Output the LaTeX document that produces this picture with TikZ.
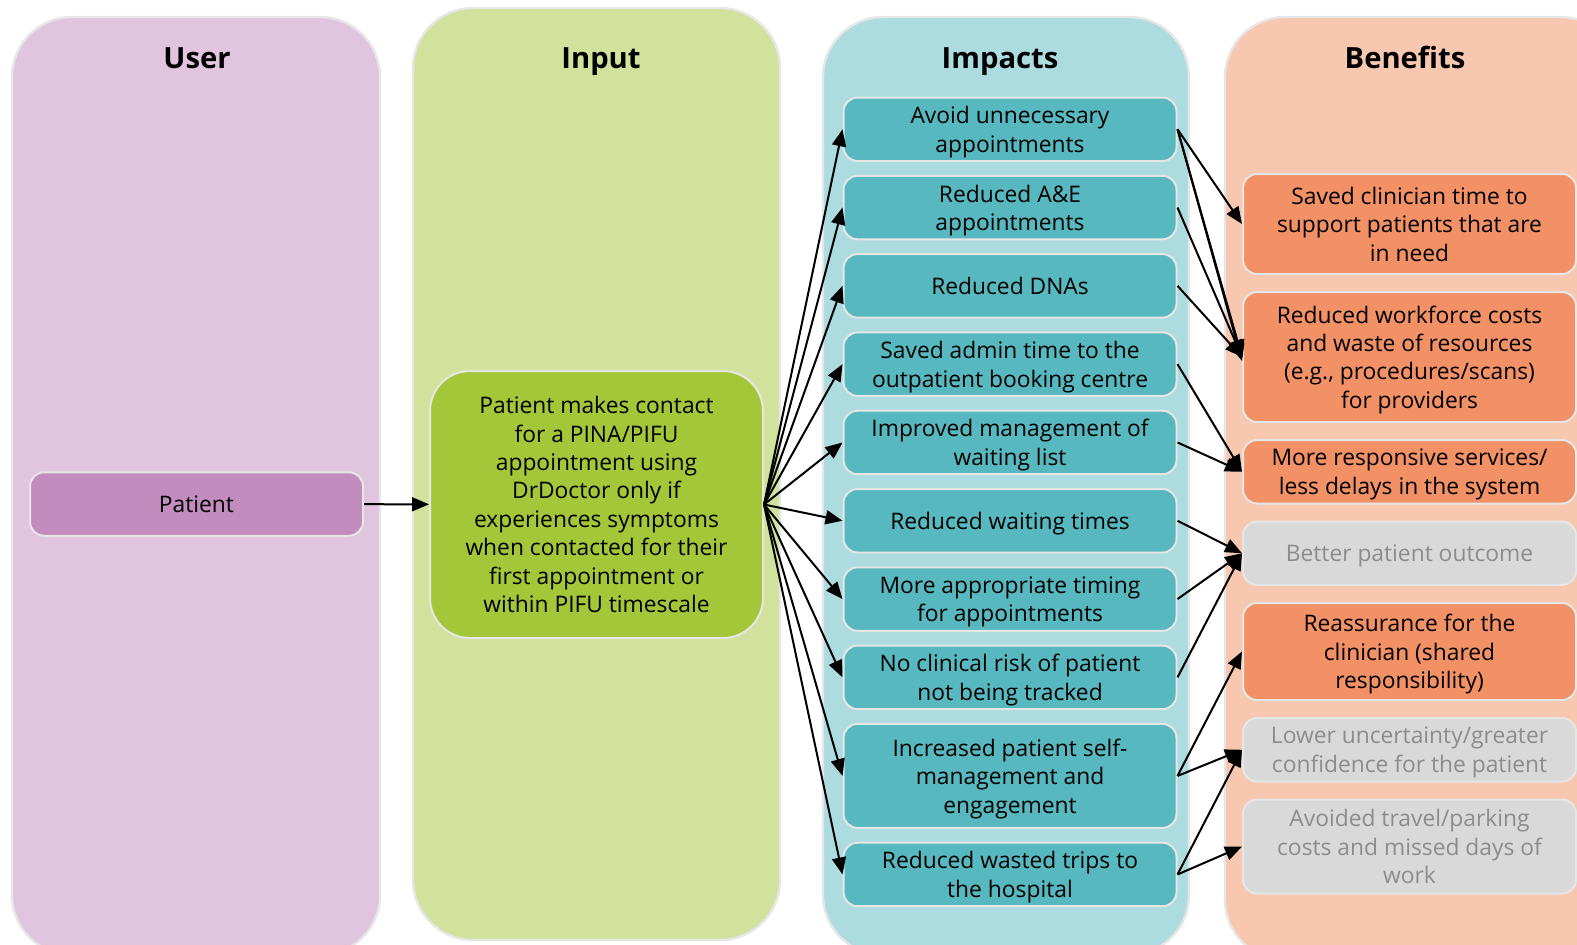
\documentclass[tikz,border=0pt]{standalone}
\usepackage{fontspec}
\setmainfont{Open Sans}
\usetikzlibrary{arrows.meta,positioning}
\definecolor{userlane}{HTML}{E1C5DF}
\definecolor{userbox}{HTML}{C28CBE}
\definecolor{inputlane}{HTML}{D2E29C}
\definecolor{inputbox}{HTML}{A4C639}
\definecolor{impactlane}{HTML}{ADDCE0}
\definecolor{impactbox}{HTML}{57B9BF}
\definecolor{benefitlane}{HTML}{F7C7B0}
\definecolor{benefitbox}{HTML}{F29066}
\definecolor{greybox}{HTML}{D9D9D9}
\definecolor{greytext}{HTML}{8C8C8C}
\definecolor{edgegrey}{HTML}{E6E6E6}

\begin{document}
\begin{tikzpicture}[x=0.5pt,y=-0.5pt,
node distance=6.4pt,
lane/.style={draw=edgegrey,line width=1.2pt,rounded corners=30pt},
head/.style={anchor=base,font=\fontsize{14.6}{16}\selectfont\bfseries},
box/.style={draw=edgegrey,line width=1pt,rounded corners=7pt,align=center,
font=\fontsize{11.4}{14.2}\selectfont,inner sep=2pt,text depth=0pt,
minimum width=166.5pt,minimum height=31.75pt},
user/.style={box,fill=userbox},
input/.style={box,fill=inputbox,rounded corners=20pt,minimum height=133.5pt},
impact/.style={box,fill=impactbox},
benefit/.style={box,fill=benefitbox},
faded/.style={box,fill=greybox,text=greytext},
dep/.style={-{Triangle[length=8.5pt,width=7pt]},line width=1pt}
]
\clip (0,0) rectangle (1577,944);
\path[lane,fill=userlane] (12,17) rectangle (380,955);
\path[lane,fill=inputlane] (413,8) rectangle (780,940);
\path[lane,fill=impactlane] (823,17) rectangle (1189,955);
\path[lane,fill=benefitlane] (1225,17) rectangle (1620,960);

\node[head] (userhd) at (197,68) {User};
\node[head] (inputhd) at (601,68) {Input};
\node[head] (impacthd) at (1000,68) {Impacts};
\node[head] (benefithd) at (1405,68) {Benefits};

\node[user] (patient) at (196.5,504) {Patient};
\node[input] (contact) at (596.5,504.5) {Patient makes contact\\for a PINA/PIFU\\appointment using\\DrDoctor only if\\experiences symptoms\\when contacted for their\\first appointment or\\within PIFU timescale};

\node[impact,anchor=north] (avoid) at (1010,96.5) {Avoid unnecessary\\appointments};
\node[impact,below=of avoid] (ane) {Reduced A\&E\\appointments};
\node[impact,below=of ane] (dna) {Reduced DNAs};
\node[impact,below=of dna] (admin) {Saved admin time to the\\outpatient booking centre};
\node[impact,below=of admin] (waitlist) {Improved management of\\waiting list};
\node[impact,below=of waitlist] (waittime) {Reduced waiting times};
\node[impact,below=of waittime] (timing) {More appropriate timing\\for appointments};
\node[impact,below=of timing] (risk) {No clinical risk of patient\\not being tracked};
\node[impact,below=of risk,minimum height=52pt] (selfman) {Increased patient self-\\management and\\engagement};
\node[impact,below=of selfman] (trips) {Reduced wasted trips to\\the hospital};

\node[benefit,anchor=north,minimum height=50pt] (clintime) at (1409.5,173) {Saved clinician time to\\support patients that are\\in need};
\node[benefit,below=8pt of clintime,minimum height=65pt] (costs) {Reduced workforce costs\\and waste of resources\\(e.g., procedures/scans)\\for providers};
\node[benefit,below=8pt of costs] (responsive) {More responsive services/\\less delays in the system};
\node[faded,below=8pt of responsive] (outcome) {Better patient outcome};
\node[benefit,below=8pt of outcome,minimum height=48.5pt] (reassure) {Reassurance for the\\clinician (shared\\responsibility)};
\node[faded,below=8pt of reassure] (certainty) {Lower uncertainty/greater\\confidence for the patient};
\node[faded,below=8pt of certainty,minimum height=47pt] (travel) {Avoided travel/parking\\costs and missed days of\\work};

\draw[dep] (patient) -- (contact);

\draw[dep] (contact.east) -- (avoid.west);
\draw[dep] (contact.east) -- (ane.west);
\draw[dep] (contact.east) -- (dna.west);
\draw[dep] (contact.east) -- (admin.west);
\draw[dep] (contact.east) -- (waitlist.west);
\draw[dep] (contact.east) -- (waittime.west);
\draw[dep] (contact.east) -- (timing.west);
\draw[dep] (contact.east) -- (risk.west);
\draw[dep] (contact.east) -- (selfman.west);
\draw[dep] (contact.east) -- (trips.west);

\draw[dep] (avoid.east) -- (clintime.west);
\draw[dep] (avoid.east) -- (costs.west);
\draw[dep] (avoid.east) -- ([yshift=-2pt]costs.west);
\draw[dep] (ane.east) -- (costs.west);
\draw[dep] (dna.east) -- (costs.west);
\draw[dep] (admin.east) -- (responsive.west);
\draw[dep] (waitlist.east) -- (responsive.west);
\draw[dep] (waittime.east) -- (outcome.west);
\draw[dep] (timing.east) -- (outcome.west);
\draw[dep] (risk.east) -- (outcome.west);
\draw[dep] (selfman.east) -- (reassure.west);
\draw[dep] (selfman.east) -- (certainty.west);
\draw[dep] (trips.east) -- (certainty.west);
\draw[dep] (trips.east) -- (travel.west);
\end{tikzpicture}
\end{document}
